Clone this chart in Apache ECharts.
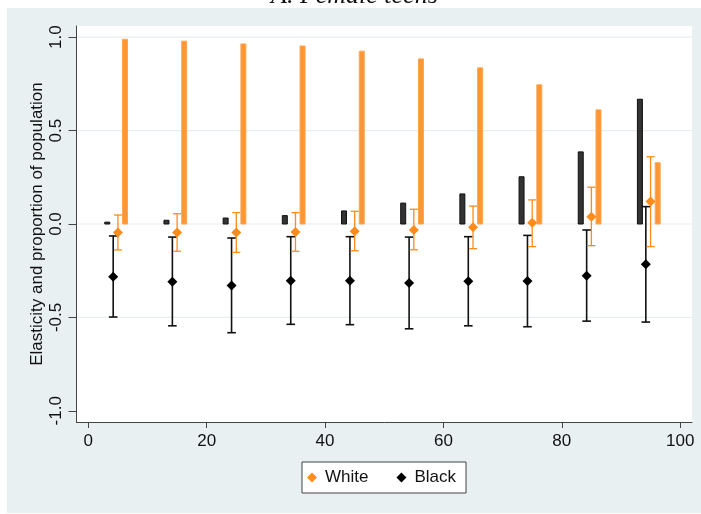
<!DOCTYPE html>
<html>
<head>
<meta charset="utf-8">
<script src="https://cdn.jsdelivr.net/npm/echarts@6/dist/echarts.min.js"></script>
<style>
  html, body { margin: 0; padding: 0; background: #ffffff; }
  #panel { position: absolute; left: 7px; top: 8px; width: 694px; height: 505px; background: #e8f0f2; }
  #chart { position: absolute; left: 0; top: 0; width: 701px; height: 514px; }
</style>
</head>
<body>
<div id="panel"></div>
<div id="chart"></div>
<script>
// ---- data ----
const deciles = [5, 15, 25, 35, 45, 55, 65, 75, 85, 95];
const blackShare = [0.01, 0.02, 0.032, 0.045, 0.07, 0.112, 0.161, 0.253, 0.386, 0.668];
const whiteShare = [0.989, 0.979, 0.964, 0.953, 0.925, 0.884, 0.836, 0.745, 0.611, 0.328];
const whiteElast = [-0.046, -0.046, -0.046, -0.043, -0.039, -0.032, -0.018, 0.007, 0.039, 0.12];
const whiteLow   = [-0.139, -0.146, -0.152, -0.146, -0.143, -0.138, -0.132, -0.121, -0.116, -0.121];
const whiteHigh  = [0.048, 0.055, 0.061, 0.061, 0.068, 0.079, 0.096, 0.129, 0.197, 0.36];
const blackElast = [-0.282, -0.309, -0.329, -0.304, -0.304, -0.316, -0.307, -0.305, -0.277, -0.216];
const blackLow   = [-0.498, -0.545, -0.582, -0.537, -0.539, -0.561, -0.545, -0.55, -0.52, -0.525];
const blackHigh  = [-0.064, -0.07, -0.075, -0.068, -0.068, -0.07, -0.068, -0.061, -0.032, 0.093];
const xTicks = [0, 20, 40, 60, 80, 100];
const yTicks = [-1, -0.5, 0, 0.5, 1];
const gridValues = [-0.5, 0, 0.5, 1];
const titleText = 'A. Female teens';
const yTitle = 'Elasticity and proportion of population';

// ---- layout offsets (x, in data units) ----
const OFF = { blackBar: -1.8, blackPt: -0.8, whitePt: 0, whiteBar: 1.2 };

const FONT = '"Liberation Sans", Arial, Helvetica, sans-serif';
const ORANGE = '#ff8c1a';
const DIAMOND = 'path://M0,5L5,0L10,5L5,10Z';

function barRenderer(fill, stroke) {
  return function (params, api) {
    const x = api.value(0), y = api.value(1);
    const top = api.coord([x, y]);
    const base = api.coord([x, 0]);
    return {
      type: 'rect',
      shape: { x: top[0] - 2.5, y: Math.min(top[1], base[1]), width: 5, height: Math.max(1.5, Math.abs(base[1] - top[1])) },
      style: { fill: fill, stroke: stroke, lineWidth: 1 }
    };
  };
}

function ciRenderer(color, lw, cap) {
  return function (params, api) {
    const x = api.value(0);
    const lo = api.coord([x, api.value(1)]);
    const hi = api.coord([x, api.value(2)]);
    const st = { stroke: color, lineWidth: lw };
    return {
      type: 'group',
      children: [
        { type: 'line', shape: { x1: lo[0], y1: lo[1], x2: hi[0], y2: hi[1] }, style: st },
        { type: 'line', shape: { x1: lo[0] - cap, y1: lo[1], x2: lo[0] + cap, y2: lo[1] }, style: st },
        { type: 'line', shape: { x1: hi[0] - cap, y1: hi[1], x2: hi[0] + cap, y2: hi[1] }, style: st }
      ]
    };
  };
}

function gridRenderer(params, api) {
  const cs = params.coordSys;
  const y = api.coord([0, api.value(1)])[1];
  return {
    type: 'line',
    shape: { x1: cs.x, y1: y, x2: cs.x + cs.width, y2: y },
    style: { stroke: '#e6eef1', lineWidth: 1.2 }
  };
}

const chart = echarts.init(document.getElementById('chart'), null, { renderer: 'canvas' });

const option = {
  animation: false,
  backgroundColor: 'transparent',
  textStyle: { fontFamily: FONT },
  graphic: [{
    type: 'text', left: 271, top: -17,
    style: { text: titleText, font: 'italic 26px "Liberation Serif", "Times New Roman", serif', fill: '#111' }
  }],
  grid: { left: 76.5, right: 9, top: 26, bottom: 92, show: true, backgroundColor: '#ffffff', borderWidth: 0 },
  legend: {
    data: [{ name: 'White', icon: DIAMOND }, { name: 'Black', icon: DIAMOND }],
    left: 302, top: 462,
    symbolKeepAspect: true,
    backgroundColor: '#ffffff', borderColor: '#444', borderWidth: 1,
    padding: [7, 10, 7, 5],
    itemWidth: 16, itemHeight: 10, itemGap: 28,
    textStyle: { fontSize: 17, color: '#111', fontFamily: FONT }
  },
  xAxis: {
    type: 'value', min: -2, max: 102,
    axisLine: { show: true, onZero: false, lineStyle: { color: '#444', width: 1 } },
    axisTick: { show: true, length: 6, customValues: xTicks, lineStyle: { color: '#444' } },
    axisLabel: { customValues: xTicks, fontSize: 17, color: '#111', margin: 11, fontFamily: FONT },
    splitLine: { show: false }
  },
  yAxis: {
    type: 'value', min: -1.06, max: 1.06,
    name: yTitle, nameLocation: 'middle', nameGap: 31, nameMoveOverlap: false,
    nameTextStyle: { fontSize: 17, color: '#111', fontFamily: FONT },
    axisLine: { show: true, onZero: false, lineStyle: { color: '#444', width: 1 } },
    axisTick: { show: true, length: 8, customValues: yTicks, lineStyle: { color: '#444' } },
    axisLabel: { customValues: yTicks, rotate: 90, fontSize: 17, color: '#111', margin: 12, fontFamily: FONT,
      formatter: function (v) { return v.toFixed(1); } },
    splitLine: { show: false }
  },
  series: [
    { name: 'grid', type: 'custom', renderItem: gridRenderer, silent: true, z: 0,
      data: gridValues.map(v => [0, v]) },
    { name: 'blackBar', type: 'custom', renderItem: barRenderer('#333333', '#111111'), z: 2,
      data: deciles.map((d, i) => [d + OFF.blackBar, blackShare[i]]) },
    { name: 'whiteBar', type: 'custom', renderItem: barRenderer('#fe9633', '#ffa550'), z: 2,
      data: deciles.map((d, i) => [d + OFF.whiteBar, whiteShare[i]]) },
    { name: 'blackCI', type: 'custom', renderItem: ciRenderer('#111111', 1.6, 4.3), z: 3,
      data: deciles.map((d, i) => [d + OFF.blackPt, blackLow[i], blackHigh[i]]) },
    { name: 'whiteCI', type: 'custom', renderItem: ciRenderer(ORANGE, 1.3, 4), z: 3,
      data: deciles.map((d, i) => [d + OFF.whitePt, whiteLow[i], whiteHigh[i]]) },
    { name: 'White', type: 'scatter', symbol: 'diamond', symbolSize: 10, z: 4,
      itemStyle: { color: ORANGE, opacity: 1 },
      data: deciles.map((d, i) => [d + OFF.whitePt, whiteElast[i]]) },
    { name: 'Black', type: 'scatter', symbol: 'diamond', symbolSize: 10, z: 4,
      itemStyle: { color: '#000000', opacity: 1 },
      data: deciles.map((d, i) => [d + OFF.blackPt, blackElast[i]]) }
  ]
};

chart.setOption(option);
</script>
</body>
</html>
